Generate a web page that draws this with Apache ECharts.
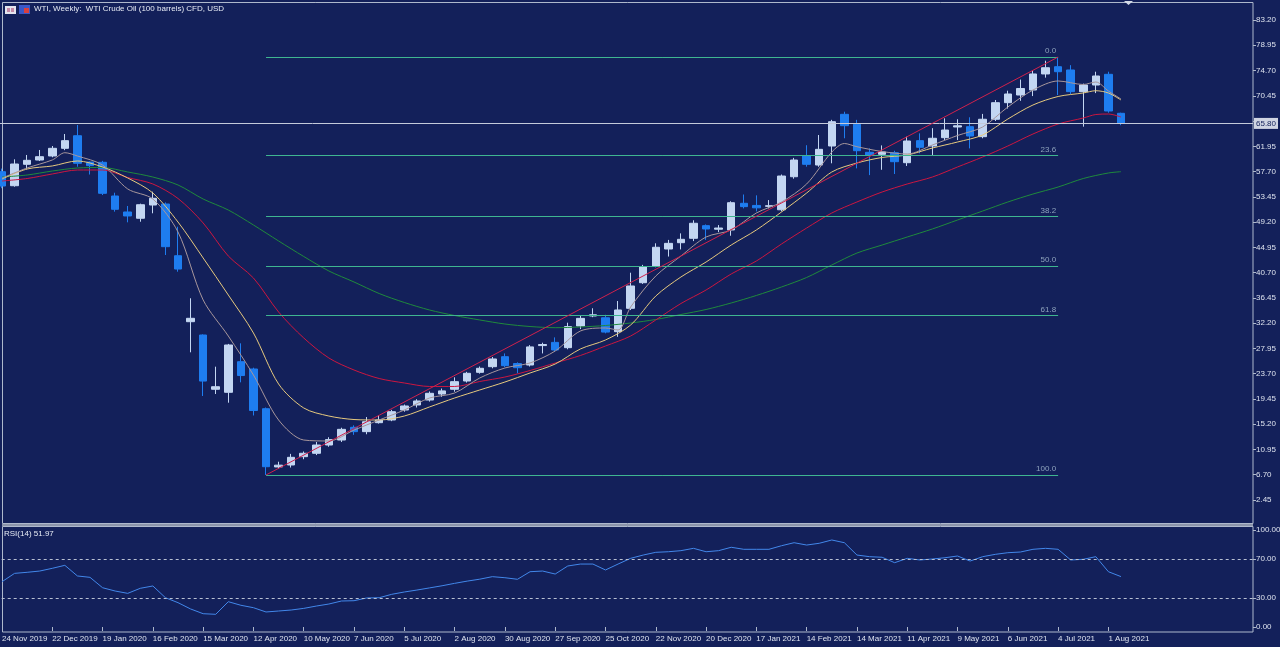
<!DOCTYPE html>
<html>
<head>
<meta charset="utf-8" />
<title>WTI, Weekly</title>
<script src="https://cdn.jsdelivr.net/npm/echarts@6.0.0/dist/echarts.min.js"></script>
<style>
  html, body { margin: 0; padding: 0; background: #13205a; }
  #chart { width: 1280px; height: 647px; }
</style>
</head>
<body>
<div id="chart"></div>
<script type="text/javascript">
// weekly bars from 24 Nov 2019
var opens  = [57.68,55.32,58.92,59.64,60.32,61.61,63.73,59.3,59.26,53.59,50.9,49.84,52.07,52.24,43.54,32.44,30.2,21.07,20.56,25.71,24.48,17.8,8.0,8.33,9.73,10.3,11.69,12.53,14.67,13.94,15.45,15.9,17.58,18.43,19.26,20.27,21.07,22.46,23.92,24.87,26.55,25.4,25.15,28.42,28.96,28.07,31.72,33.4,33.1,30.76,34.69,39.0,41.81,44.67,45.73,46.47,48.6,48.0,47.87,52.36,52.0,51.85,51.27,56.83,60.32,58.8,62.0,67.33,65.65,60.94,60.6,60.87,59.19,62.9,62.0,63.4,65.2,65.25,63.57,66.5,69.29,70.58,71.42,74.12,75.34,74.79,71.14,72.26,74.06,67.5];
var highs  = [58.2,59.76,60.49,61.33,62.0,64.02,65.53,59.4,59.5,54.14,51.91,52.3,54.31,52.5,48.42,36.38,30.3,24.87,28.7,28.8,24.7,18.0,8.88,10.2,10.6,12.2,13.0,14.6,15.0,16.4,16.7,17.6,18.5,19.4,20.7,21.2,23.08,24.0,24.9,26.5,27.1,25.6,28.5,28.9,29.8,32.27,33.5,34.7,33.6,35.92,40.68,42.0,45.63,46.2,47.3,49.5,48.8,48.7,52.7,53.84,53.7,52.9,57.2,60.0,62.13,63.85,66.4,67.77,66.4,61.6,62.1,61.2,63.57,64.13,65.0,66.66,66.5,66.83,67.4,69.74,71.3,73.18,74.7,76.35,76.97,75.6,72.5,74.5,74.5,67.6];
var lows   = [54.9,55.15,58.08,59.47,60.1,61.3,58.52,57.2,53.75,50.95,49.16,49.26,50.68,43.66,40.85,27.29,19.94,20.27,18.81,22.24,16.66,6.65,7.66,7.9,9.3,10.0,11.4,12.2,13.4,13.5,15.3,15.7,17.3,18.0,19.0,19.8,20.66,22.2,23.7,24.6,24.8,23.76,24.9,27.1,27.4,27.8,31.2,33.2,30.48,29.9,34.4,38.8,41.6,43.4,44.6,46.0,46.2,47.5,46.9,51.5,51.0,51.5,51.0,56.5,58.52,58.5,59.09,63.3,58.24,57.1,58.0,57.29,58.64,60.77,60.49,63.0,63.0,61.6,63.3,66.2,68.3,69.6,70.4,73.5,70.58,70.75,65.25,70.9,67.6,65.5];
var closes = [55.27,58.97,59.59,60.2,61.61,62.9,59.09,58.7,54.04,51.35,50.23,52.12,53.2,45.06,41.3,33.01,22.45,21.5,28.52,23.38,17.5,8.04,8.3,9.62,10.3,11.69,12.6,14.33,13.94,15.61,15.9,17.3,18.26,19.1,20.39,20.8,22.35,23.76,24.6,26.17,25.04,24.7,28.2,28.6,27.68,31.62,33.0,33.6,30.69,34.41,38.45,41.69,44.96,45.62,46.3,49.0,48.04,48.2,52.46,51.8,51.6,51.95,56.95,59.64,58.92,61.44,66.09,65.42,61.21,60.49,61.0,59.36,62.84,61.78,63.3,64.69,65.4,63.68,66.5,69.29,70.75,71.67,74.12,75.17,74.5,71.14,72.26,73.78,67.89,65.8];

// moving averages, read at every second bar: [bar index, value]
var maFast = [[0,56.6],[2,58.3],[4,59.65],[5,60.87],[6,60.32],[8,58.8],[10,54.77],[12,53.08],[14,47.53],[16,36.1],[18,30.03],[20,23.47],[22,15.9],[24,12.53],[26,12.37],[28,14.2],[30,15.9],[32,17.58],[34,19.6],[36,20.44],[38,22.97],[40,24.65],[42,25.5],[44,27.51],[46,30.87],[48,31.38],[49,31.04],[50,34.91],[52,40.13],[54,43.49],[56,46.69],[58,47.87],[60,50.73],[62,52.58],[64,55.61],[66,60.99],[67,62.42],[68,61.88],[70,61.07],[72,60.65],[74,62.17],[76,63.77],[78,65.2],[80,68.56],[82,71.42],[84,72.94],[86,72.35],[87,72.77],[88,71.25],[89,69.91]];
var maMid  = [[0,56.45],[2,58.13],[4,58.64],[6,59.48],[8,58.47],[10,56.62],[12,54.09],[14,49.21],[16,43.16],[18,36.93],[20,30.54],[22,21.96],[24,17.92],[26,16.57],[28,15.98],[30,15.9],[32,16.57],[34,18.09],[36,19.6],[38,20.95],[40,22.29],[42,23.81],[44,25.32],[46,27.85],[48,29.36],[50,31.88],[52,36.76],[54,39.96],[56,42.48],[58,45.34],[60,47.87],[62,50.9],[64,54.09],[66,57.63],[68,59.14],[70,60.07],[72,60.49],[74,61.66],[76,62.67],[78,63.85],[80,66.54],[82,68.9],[84,70.33],[86,70.92],[87,71.3],[88,70.92],[89,69.74]];
var maSlow = [[0,56.11],[2,56.53],[4,57.29],[6,57.96],[8,57.96],[10,56.7],[12,55.61],[14,53.17],[16,49.05],[18,43.49],[20,39.79],[22,34.07],[24,29.7],[26,26.33],[28,24.31],[30,22.88],[32,22.13],[34,21.54],[36,21.54],[38,22.38],[40,23.13],[42,24.23],[44,25.49],[46,26.75],[48,28.35],[50,30.03],[52,32.73],[54,35.5],[56,37.77],[58,40.47],[60,42.65],[62,45.51],[64,48.2],[66,50.73],[68,52.58],[70,54.26],[72,55.61],[74,56.78],[76,58.47],[78,60.15],[80,62.0],[82,64.02],[84,65.7],[86,66.71],[87,67.3],[88,67.38],[89,66.88]];
var maLong = [[0,56.78],[2,57.12],[4,57.79],[6,58.3],[8,58.38],[10,57.63],[12,56.78],[14,55.44],[16,53.08],[18,51.23],[20,48.71],[22,46.02],[24,43.41],[26,40.97],[28,39.12],[30,37.18],[32,35.67],[34,34.41],[36,33.48],[38,32.73],[40,32.05],[42,31.63],[44,31.43],[46,31.55],[48,31.8],[50,32.22],[52,32.81],[54,33.65],[56,34.49],[58,35.59],[60,36.85],[62,38.28],[64,39.88],[66,41.98],[68,43.99],[70,45.34],[72,46.69],[74,48.04],[76,49.55],[78,51.06],[80,52.58],[82,53.92],[84,55.1],[86,56.53],[88,57.46],[89,57.68]];

var rsi = [46.7,55.3,56.4,57.7,60.5,63.6,52.6,51.2,40.5,37.1,34.7,39.9,42.3,30.2,25.1,18.6,13.7,13.1,26.1,22.4,19.9,15.5,16.5,17.5,19.2,21.6,23.7,26.8,27.1,29.9,30.2,33.7,36.1,38.1,40.3,42.5,45.0,47.3,49.3,51.9,50.8,49.2,57.0,57.7,54.6,62.9,64.9,64.9,58.8,64.9,70.8,74.2,77.0,77.6,78.7,81.1,77.6,78.7,82.2,80.1,80.1,80.1,83.8,86.9,84.5,86.3,89.7,86.9,74.2,72.5,71.9,66.3,70.8,69.1,70.1,71.4,73.2,68.0,72.5,74.9,76.6,77.3,80.1,81.1,80.1,69.1,69.8,72.5,57.0,51.97];

var priceTicks = [2.45,6.70,10.95,15.20,19.45,23.70,27.95,32.20,36.45,40.70,44.95,49.20,53.45,57.70,61.95,66.20,70.45,74.70,78.95,83.20];
var rsiTicks = [0, 30, 70, 100];
var lastPrice = 65.80;

// fibonacci retracement drawn from the April 2020 low to the July 2021 high
var fibFrom = 21, fibTo = 84;
var fibLevels = [76.97, 60.37, 50.11, 41.81, 33.51, 6.65];
var fibLabels = ["0.0", "23.6", "38.2", "50.0", "61.8", "100.0"];

var monthNames = ["Jan","Feb","Mar","Apr","May","Jun","Jul","Aug","Sep","Oct","Nov","Dec"];
var weeks = [];
for (var w = 0; w < 100; w++) {
  var d = new Date(Date.UTC(2019, 10, 24 + 7 * w));
  weeks.push(d.getUTCDate() + " " + monthNames[d.getUTCMonth()] + " " + d.getUTCFullYear());
}

var candles = opens.map(function (o, i) { return [o, closes[i], lows[i], highs[i]]; });

var FONT = "'Liberation Sans', Arial, sans-serif";
var FRAME = "#aeb8cc";

var marks = [{
  yAxis: lastPrice,
  lineStyle: { color: "#c4cada", width: 1, type: "solid" },
  label: {
    show: true, position: "end", distance: 1, formatter: lastPrice.toFixed(2),
    color: "#13205a", backgroundColor: "#cfd4e2", padding: [2, 2, 1, 2],
    fontSize: 8, fontFamily: FONT
  }
}];
fibLevels.forEach(function (lv, k) {
  marks.push([
    {
      coord: [weeks[fibFrom], lv],
      lineStyle: { color: "#3fb590", width: 1, type: "solid" },
      label: {
        show: true, position: "insideEndTop", distance: 2, formatter: fibLabels[k],
        color: "#8ea2bc", fontSize: 8, fontFamily: FONT
      }
    },
    { coord: [weeks[fibTo], lv] }
  ]);
});
marks.push([
  { coord: [weeks[fibFrom], fibLevels[5]], lineStyle: { color: "#d0204c", width: 1, type: "solid" }, label: { show: false } },
  { coord: [weeks[fibTo], fibLevels[0]] }
]);

function maSeries(name, data, color) {
  return {
    name: name, type: "line", xAxisIndex: 0, yAxisIndex: 0, data: data,
    symbol: "none", smooth: 0.3, connectNulls: true,
    lineStyle: { color: color, width: 1 }, silent: true
  };
}

function showLabel(index) { return index % 4 === 0 && index < opens.length; }

var chart = echarts.init(document.getElementById("chart"));
chart.setOption({
  backgroundColor: "#13205a",
  animation: false,
  grid: [
    { left: -4.3, width: 1257.3, top: 3, height: 520, outerBoundsMode: "none", containLabel: false },
    { left: -4.3, width: 1257.3, top: 527, height: 105, outerBoundsMode: "none", containLabel: false }
  ],
  xAxis: [
    { type: "category", gridIndex: 0, data: weeks, boundaryGap: true, show: false },
    {
      type: "category", gridIndex: 1, data: weeks, boundaryGap: true,
      axisLine: { show: false },
      axisTick: { show: true, alignWithLabel: true, interval: showLabel, length: 4, lineStyle: { color: FRAME } },
      axisLabel: {
        interval: showLabel, align: "left", margin: 3, color: "#dde2ee",
        fontSize: 8, fontFamily: FONT
      }
    }
  ],
  yAxis: [
    {
      type: "value", gridIndex: 0, position: "right", min: -1.43, max: 86.06,
      splitLine: { show: false }, axisLine: { show: false },
      axisTick: { show: true, length: 3, customValues: priceTicks, lineStyle: { color: FRAME } },
      axisLabel: {
        customValues: priceTicks, margin: 3, color: "#dde2ee", fontSize: 8, fontFamily: FONT,
        formatter: function (v) { return v.toFixed(2); }
      }
    },
    {
      type: "value", gridIndex: 1, position: "right", min: -5.15, max: 103.1,
      splitLine: { show: false }, axisLine: { show: false },
      axisTick: { show: true, length: 3, customValues: rsiTicks, lineStyle: { color: FRAME } },
      axisLabel: {
        customValues: rsiTicks, margin: 3, color: "#dde2ee", fontSize: 8, fontFamily: FONT,
        formatter: function (v) { return v.toFixed(2); }
      }
    }
  ],
  series: [
    {
      name: "WTI", type: "candlestick", xAxisIndex: 0, yAxisIndex: 0, data: candles,
      barWidth: 8,
      itemStyle: {
        color: "#c3d6f2", color0: "#1e7df0",
        borderColor: "#c3d6f2", borderColor0: "#1e7df0", borderWidth: 1
      },
      markLine: { silent: true, symbol: ["none", "none"], data: marks }
    },
    maSeries("MA long", maLong, "#1f8a3c"),
    maSeries("MA slow", maSlow, "#cc1640"),
    maSeries("MA mid", maMid, "#e6c97e"),
    maSeries("MA fast", maFast, "#a8979c"),
    {
      name: "RSI(14)", type: "line", xAxisIndex: 1, yAxisIndex: 1, data: rsi,
      symbol: "none", lineStyle: { color: "#4287ea", width: 1 }, silent: true,
      markLine: {
        silent: true, symbol: ["none", "none"], label: { show: false },
        lineStyle: { color: "#b8c0d2", width: 1, type: [3, 3] },
        data: [{ yAxis: 70 }, { yAxis: 30 }]
      }
    }
  ],
  graphic: [
    { type: "rect", shape: { x: 2.5, y: 2.5, width: 1250.5, height: 521 }, style: { fill: "none", stroke: FRAME, lineWidth: 1 }, silent: true },
    { type: "rect", shape: { x: 2.5, y: 526.5, width: 1250.5, height: 105.5 }, style: { fill: "none", stroke: FRAME, lineWidth: 1 }, silent: true },
    { type: "line", shape: { x1: 2, y1: 525, x2: 1253, y2: 525 }, style: { stroke: "#8b94aa", lineWidth: 2 }, silent: true },
    { type: "rect", shape: { x: 5, y: 6, width: 11, height: 8 }, style: { fill: "#e4e4ee" }, silent: true },
    { type: "rect", shape: { x: 7, y: 8, width: 3, height: 4 }, style: { fill: "#c58aa8" }, silent: true },
    { type: "rect", shape: { x: 11, y: 8, width: 3, height: 4 }, style: { fill: "#c58aa8" }, silent: true },
    { type: "rect", shape: { x: 19, y: 5, width: 11, height: 9 }, style: { fill: "#3a58c8" }, silent: true },
    { type: "rect", shape: { x: 24, y: 8, width: 5, height: 5 }, style: { fill: "#d84040" }, silent: true },
    {
      type: "text", left: 34, top: 5, silent: true,
      style: { text: "WTI, Weekly:  WTI Crude Oil (100 barrels) CFD, USD", fill: "#e6eaf4", fontSize: 8, fontFamily: FONT }
    },
    {
      type: "text", left: 4, top: 530, silent: true,
      style: { text: "RSI(14) 51.97", fill: "#e6eaf4", fontSize: 8, fontFamily: FONT }
    },
    { type: "polygon", shape: { points: [[1124, 1], [1133, 1], [1128.5, 5]] }, style: { fill: "#d4dae8" }, silent: true }
  ]
});
</script>
</body>
</html>
